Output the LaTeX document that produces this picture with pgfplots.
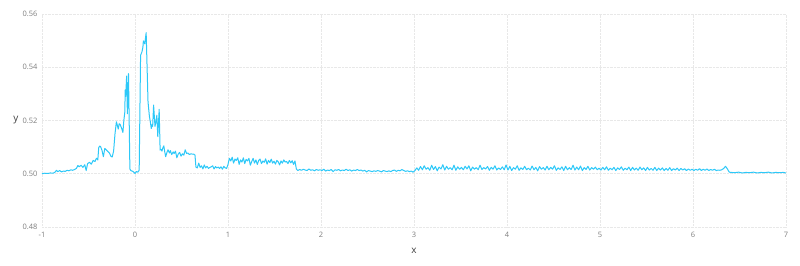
\documentclass[border=0pt]{standalone}
\usepackage{fontspec}
\setmainfont{Open Sans}
\usepackage{pgfplots}
\pgfplotsset{compat=1.18}
\usepackage{pgfplotstable}
\definecolor{line}{RGB}{45,200,248}
\definecolor{tickc}{RGB}{125,125,125}
\pgfplotstableread{
x y
-1.00 0.5000
-0.97 0.5002
-0.94 0.5001
-0.91 0.5003
-0.88 0.5002
-0.86 0.5006
-0.845 0.5013
-0.83 0.5008
-0.81 0.5012
-0.79 0.5007
-0.77 0.5010
-0.75 0.5009
-0.73 0.5013
-0.71 0.5011
-0.69 0.5015
-0.67 0.5013
-0.65 0.5016
-0.63 0.5020
-0.615 0.5031
-0.60 0.5026
-0.58 0.5032
-0.56 0.5024
-0.54 0.5034
-0.525 0.5012
-0.51 0.5038
-0.49 0.5043
-0.47 0.5036
-0.45 0.5050
-0.43 0.5046
-0.415 0.5058
-0.40 0.5052
-0.39 0.5098
-0.38 0.5104
-0.37 0.5102
-0.355 0.5088
-0.34 0.5064
-0.325 0.5095
-0.31 0.5090
-0.29 0.5083
-0.275 0.5078
-0.26 0.5066
-0.245 0.5063
-0.23 0.5085
-0.215 0.5150
-0.20 0.5195
-0.19 0.5182
-0.18 0.5168
-0.17 0.5188
-0.16 0.5185
-0.145 0.5172
-0.13 0.5155
-0.12 0.5200
-0.11 0.5230
-0.105 0.5315
-0.10 0.5290
-0.09 0.5367
-0.082 0.5225
-0.07 0.5376
-0.055 0.5018
-0.045 0.5012
-0.03 0.5010
-0.015 0.5007
0.00 0.5001
0.015 0.5008
0.03 0.5006
0.045 0.5013
0.06 0.5445
0.075 0.5458
0.085 0.5475
0.09 0.5499
0.10 0.5492
0.105 0.5488
0.12 0.5530
0.14 0.5270
0.155 0.5215
0.165 0.5195
0.175 0.5170
0.185 0.5185
0.19 0.5178
0.20 0.5258
0.215 0.5178
0.225 0.5195
0.235 0.5220
0.245 0.5139
0.26 0.5242
0.27 0.5089
0.28 0.5092
0.29 0.5085
0.30 0.5098
0.31 0.5105
0.32 0.5082
0.33 0.5064
0.345 0.5082
0.355 0.5090
0.37 0.5078
0.38 0.5087
0.395 0.5072
0.41 0.5082
0.42 0.5076
0.435 0.5085
0.45 0.5060
0.465 0.5074
0.48 0.5080
0.495 0.5066
0.51 0.5075
0.525 0.5070
0.54 0.5090
0.555 0.5076
0.57 0.5078
0.585 0.5072
0.60 0.5075
0.615 0.5074
0.63 0.5074
0.645 0.5070
0.655 0.5025
0.67 0.5022
0.685 0.5040
0.70 0.5024
0.715 0.5030
0.73 0.5018
0.745 0.5033
0.76 0.5022
0.775 0.5028
0.79 0.5020
0.805 0.5024
0.82 0.5026
0.835 0.5030
0.85 0.5018
0.865 0.5027
0.88 0.5022
0.895 0.5025
0.91 0.5020
0.925 0.5026
0.94 0.5017
0.955 0.5028
0.97 0.5022
0.985 0.5020
1.00 0.5035
1.015 0.5058
1.03 0.5048
1.045 0.5062
1.06 0.5040
1.075 0.5055
1.09 0.5050
1.105 0.5060
1.12 0.5035
1.135 0.5052
1.15 0.5044
1.165 0.5060
1.18 0.5038
1.195 0.5054
1.21 0.5048
1.225 0.5058
1.24 0.5032
1.255 0.5046
1.27 0.5058
1.285 0.5040
1.30 0.5052
1.315 0.5035
1.33 0.5050
1.345 0.5055
1.36 0.5038
1.375 0.5048
1.39 0.5043
1.405 0.5056
1.42 0.5036
1.435 0.5050
1.45 0.5042
1.465 0.5055
1.48 0.5040
1.495 0.5047
1.51 0.5036
1.525 0.5050
1.54 0.5045
1.555 0.5033
1.57 0.5048
1.585 0.5040
1.60 0.5052
1.615 0.5044
1.63 0.5046
1.645 0.5038
1.66 0.5050
1.675 0.5041
1.69 0.5049
1.705 0.5035
1.72 0.5048
1.735 0.5018
1.75 0.5012
1.77 0.5016
1.79 0.5013
1.81 0.5017
1.83 0.5014
1.85 0.5012
1.87 0.5018
1.89 0.5013
1.91 0.5015
1.93 0.5011
1.95 0.5016
1.97 0.5013
1.99 0.5015
2.01 0.5012
2.03 0.5017
2.05 0.5010
2.07 0.5014
2.09 0.5012
2.11 0.5016
2.13 0.5008
2.15 0.5015
2.17 0.5013
2.19 0.5016
2.21 0.5011
2.23 0.5014
2.25 0.5012
2.27 0.5017
2.29 0.5012
2.31 0.5015
2.33 0.5010
2.35 0.5014
2.37 0.5012
2.39 0.5016
2.41 0.5012
2.43 0.5014
2.45 0.5010
2.47 0.5013
2.49 0.5007
2.51 0.5012
2.53 0.5010
2.55 0.5008
2.57 0.5011
2.59 0.5009
2.61 0.5012
2.63 0.5010
2.65 0.5007
2.67 0.5012
2.69 0.5010
2.71 0.5008
2.73 0.5011
2.75 0.5008
2.77 0.5012
2.79 0.5014
2.81 0.5009
2.83 0.5013
2.85 0.5011
2.87 0.5016
2.89 0.5012
2.91 0.5009
2.93 0.5011
2.95 0.5008
2.97 0.5010
2.99 0.5006
3.01 0.5012
3.03 0.5022
3.05 0.5013
3.07 0.5027
3.09 0.5015
3.11 0.5030
3.13 0.5017
3.15 0.5023
3.17 0.5013
3.19 0.5032
3.21 0.5016
3.23 0.5027
3.25 0.5011
3.27 0.5025
3.29 0.5018
3.31 0.5034
3.33 0.5014
3.35 0.5028
3.37 0.5017
3.39 0.5023
3.41 0.5015
3.43 0.5032
3.45 0.5013
3.47 0.5026
3.49 0.5017
3.51 0.5024
3.53 0.5015
3.55 0.5028
3.57 0.5018
3.59 0.5030
3.61 0.5011
3.63 0.5025
3.65 0.5017
3.67 0.5023
3.69 0.5015
3.71 0.5032
3.73 0.5016
3.75 0.5023
3.77 0.5018
3.79 0.5027
3.81 0.5013
3.83 0.5024
3.85 0.5017
3.87 0.5030
3.89 0.5014
3.91 0.5022
3.93 0.5016
3.95 0.5026
3.97 0.5015
3.99 0.5033
4.01 0.5014
4.03 0.5028
4.05 0.5012
4.07 0.5023
4.09 0.5017
4.11 0.5030
4.13 0.5013
4.15 0.5022
4.17 0.5016
4.19 0.5028
4.21 0.5015
4.23 0.5021
4.25 0.5014
4.27 0.5029
4.29 0.5015
4.31 0.5024
4.33 0.5011
4.35 0.5027
4.37 0.5017
4.39 0.5023
4.41 0.5014
4.43 0.5028
4.45 0.5015
4.47 0.5024
4.49 0.5017
4.51 0.5030
4.53 0.5013
4.55 0.5022
4.57 0.5016
4.59 0.5026
4.61 0.5012
4.63 0.5028
4.65 0.5015
4.67 0.5023
4.69 0.5016
4.71 0.5032
4.73 0.5014
4.75 0.5025
4.77 0.5015
4.79 0.5029
4.81 0.5012
4.83 0.5023
4.85 0.5016
4.87 0.5028
4.89 0.5014
4.91 0.5023
4.93 0.5017
4.95 0.5025
4.97 0.5015
4.99 0.5021
5.01 0.5014
5.03 0.5024
5.05 0.5015
5.07 0.5026
5.09 0.5013
5.11 0.5021
5.13 0.5015
5.15 0.5024
5.17 0.5012
5.19 0.5022
5.21 0.5016
5.23 0.5026
5.25 0.5013
5.27 0.5021
5.29 0.5015
5.31 0.5025
5.33 0.5012
5.35 0.5024
5.37 0.5014
5.39 0.5021
5.41 0.5013
5.43 0.5025
5.45 0.5015
5.47 0.5022
5.49 0.5012
5.51 0.5024
5.53 0.5014
5.55 0.5020
5.57 0.5013
5.59 0.5024
5.61 0.5012
5.63 0.5021
5.65 0.5014
5.67 0.5022
5.69 0.5012
5.71 0.5020
5.73 0.5013
5.75 0.5023
5.77 0.5012
5.79 0.5019
5.81 0.5014
5.83 0.5021
5.85 0.5012
5.87 0.5020
5.89 0.5014
5.91 0.5019
5.93 0.5012
5.95 0.5018
5.97 0.5013
5.99 0.5017
6.01 0.5012
6.03 0.5017
6.05 0.5013
6.07 0.5019
6.09 0.5012
6.11 0.5017
6.13 0.5013
6.15 0.5018
6.17 0.5012
6.19 0.5016
6.21 0.5013
6.23 0.5017
6.25 0.5012
6.27 0.5014
6.29 0.5013
6.31 0.5015
6.33 0.5020
6.35 0.5028
6.37 0.5018
6.39 0.5006
6.41 0.5005
6.45 0.5004
6.49 0.5006
6.53 0.5003
6.57 0.5005
6.61 0.5004
6.65 0.5006
6.69 0.5003
6.73 0.5005
6.77 0.5004
6.81 0.5006
6.85 0.5003
6.89 0.5005
6.93 0.5004
6.97 0.5005
7.00 0.5003
}\datatable
\begin{document}
\begin{tikzpicture}
\begin{axis}[
  scale only axis,
  width=744bp, height=213bp,
  xmin=-1, xmax=7, ymin=0.48, ymax=0.56,
  xtick={-1,0,...,7},
  xticklabels={-1,0,1,2,3,4,5,6,7},
  ytick={0.48,0.50,0.52,0.54,0.56},
  yticklabels={0.48,0.50,0.52,0.54,0.56},
  axis line style={draw=none},
  tick style={draw=none},
  grid=major,
  major grid style={densely dotted, draw=black!9, line width=0.6bp},
  tick label style={font=\fontsize{7.5}{9}\selectfont, text=tickc},
  xticklabel style={yshift=-2bp},
  yticklabel style={xshift=-1bp},
  label style={font=\fontsize{10}{12}\selectfont, text=black!75},
  xlabel={x}, ylabel={y},
  xlabel style={at={(axis description cs:0.5,0)}, anchor=center, yshift=-24bp},
  ylabel style={rotate=-90, at={(axis description cs:0,0.5)}, anchor=center, xshift=-26bp},
  clip=false,
]
\addplot[line, line width=1bp, mark=none, line join=round] table[x=x,y=y] {\datatable};
\end{axis}
\path (current axis.south west) ++(-42bp,-39bp) coordinate (bl);
\path (current axis.north east) ++(14bp,14bp) coordinate (tr);
\useasboundingbox (bl) rectangle (tr);
\end{tikzpicture}
\end{document}
